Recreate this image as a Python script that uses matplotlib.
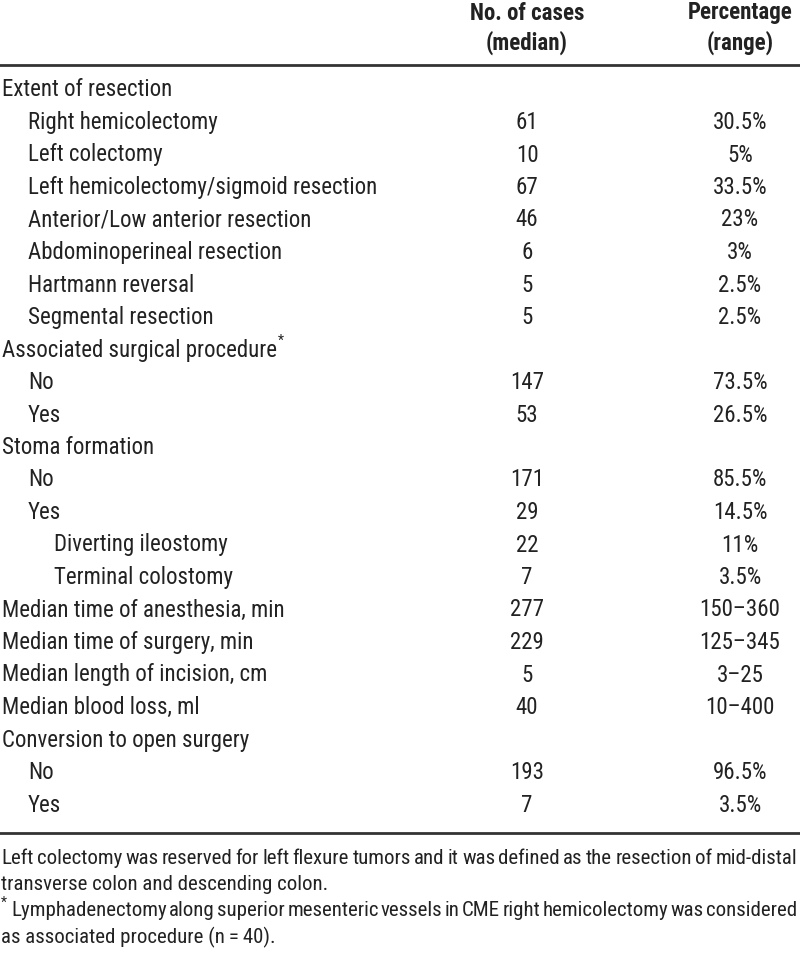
import matplotlib
matplotlib.use("Agg")
import matplotlib.pyplot as plt
from matplotlib import font_manager

# table content
labels = ["Extent of resection", "Right hemicolectomy", "Left colectomy",
          "Left hemicolectomy/sigmoid resection", "Anterior/Low anterior resection",
          "Abdominoperineal resection", "Hartmann reversal", "Segmental resection",
          "Associated surgical procedure", "No", "Yes", "Stoma formation", "No", "Yes",
          "Diverting ileostomy", "Terminal colostomy",
          "Median time of anesthesia, min", "Median time of surgery, min",
          "Median length of incision, cm", "Median blood loss, ml",
          "Conversion to open surgery", "No", "Yes"]
levels = [0, 1, 1, 1, 1, 1, 1, 1, 0, 1, 1, 0, 1, 1, 2, 2, 0, 0, 0, 0, 0, 1, 1]
cases = ["", "61", "10", "67", "46", "6", "5", "5", "", "147", "53", "", "171", "29",
         "22", "7", "277", "229", "5", "40", "", "193", "7"]
pct = ["", "30.5%", "5%", "33.5%", "23%", "3%", "2.5%", "2.5%", "", "73.5%", "26.5%", "",
       "85.5%", "14.5%", "11%", "3.5%", "150\u2013360", "125\u2013345", "3\u201325",
       "10\u2013400", "", "96.5%", "3.5%"]
headers = [("No. of cases", "(median)"), ("Percentage", "(range)")]
footnotes = ["Left colectomy was reserved for left flexure tumors and it was defined as the resection of mid-distal",
             "transverse colon and descending colon.",
             "Lymphadenectomy along superior mesenteric vessels in CME right hemicolectomy was considered",
             "as associated procedure (n\u2009=\u200940)."]
justify = [True, False, True, False]
starred = [False, False, True, False]

names = {f.name for f in font_manager.fontManager.ttflist}
fam = "Roboto Condensed" if "Roboto Condensed" in names else "DejaVu Sans"
plt.rcParams["font.family"] = [fam, "DejaVu Sans"]
plt.rcParams["font.stretch"] = "condensed"

W, H = 800, 957
fig = plt.figure(figsize=(W / 100, H / 100), dpi=100)
txt = "#222222"


def put(x, y, s, **kw):
    return fig.text(x / W, 1 - y / H, s, color=txt, va="center", **kw)


def rule(y, lw=2.0):
    fig.add_artist(plt.Line2D([0, 1], [1 - y / H, 1 - y / H], color="#333333", lw=lw))


col_x = [527, 740]
for cx, (h1, h2) in zip(col_x, headers):
    put(cx, 13, h1, ha="center", fontsize=16.5, fontweight="bold")
    put(cx, 43, h2, ha="center", fontsize=16.5, fontweight="bold")
rule(65)

fs = 16.5
y0, dy = 90, 32.5
for i, lab in enumerate(labels):
    y = y0 + i * dy
    t = put(2 + 26 * levels[i], y, lab, ha="left", fontsize=fs)
    if lab.startswith("Associated"):
        r = fig.canvas.get_renderer()
        x_end = t.get_window_extent(r).x1
        put(x_end + 1, y - 9, "*", ha="left", fontsize=10)
    put(col_x[0], y, cases[i], ha="center", fontsize=fs)
    put(col_x[1], y, pct[i], ha="center", fontsize=fs)
rule(y0 + len(labels) * dy - 5)

# footnotes, with the long lines spread to the full width
r = fig.canvas.get_renderer()
ffs = 15
right = 797
for j, fn in enumerate(footnotes):
    y = 858 + j * 26.5
    x0 = 1
    if starred[j]:
        put(x0, y - 8, "*", ha="left", fontsize=10)
        x0 = 11
    if not justify[j]:
        put(x0, y, fn, ha="left", fontsize=ffs)
        continue
    words = fn.split(" ")
    arts = [put(0, y, w, ha="left", fontsize=ffs) for w in words]
    widths = [a.get_window_extent(r).width for a in arts]
    gap = (right - x0 - sum(widths)) / (len(words) - 1)
    x = x0
    for a, w in zip(arts, widths):
        a.set_x(x / W)
        x += w + gap

fig.savefig("out.png", dpi=100)
